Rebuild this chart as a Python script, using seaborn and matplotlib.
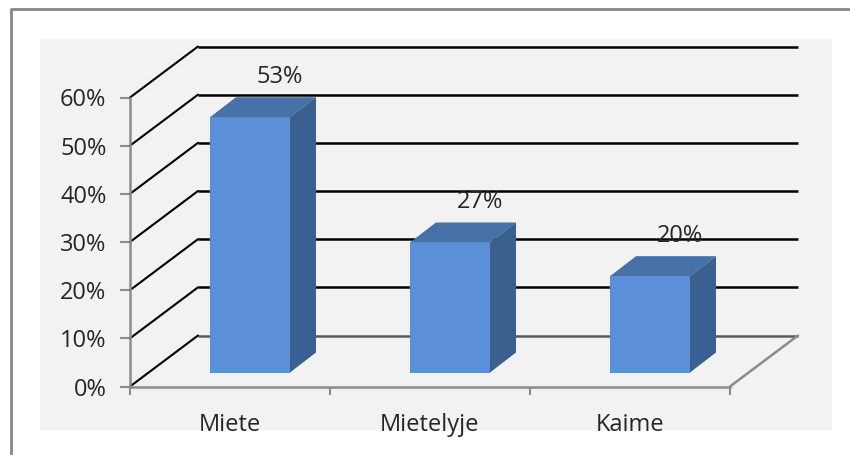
"""3D style column chart drawn flat with seaborn bars plus depth faces."""
import matplotlib
matplotlib.use("Agg")
import matplotlib.pyplot as plt
import pandas as pd
import seaborn as sns
from matplotlib.lines import Line2D
from matplotlib.patches import Polygon, Rectangle
from matplotlib.ticker import PercentFormatter

CATEGORIES = ["Miete", "Mietelyje", "Kaime"]
VALUES = [53, 27, 20]
Y_TICKS = [0, 10, 20, 30, 40, 50, 60]

FRONT = "#5b90d9"
TOP = "#4672a8"
SIDE = "#3b5f8e"
AXIS_GREY = "#8c8c8c"
TEXT = "#262626"
LABEL_SIZE = 17

W, H = 850, 455
AX_LEFT, AX_RIGHT, AX_TOP, AX_BOTTOM = 130, 730, 97.5, 386.5
X_PER_PX = len(CATEGORIES) / (AX_RIGHT - AX_LEFT)
Y_PER_PX = Y_TICKS[-1] / (AX_BOTTOM - AX_TOP)


def draw_walls(ax):
    # back wall and floor sit 68px right and 51px up of the axis plane
    dx, dy = 68 * X_PER_PX, 51 * Y_PER_PX
    x0, x1 = ax.get_xlim()
    for tick in Y_TICKS:
        color = "#595959" if tick == 0 else "black"
        ax.plot([x0 + dx, x1 + dx], [tick + dy, tick + dy], color=color,
                lw=1.8, clip_on=False, zorder=1, solid_capstyle="butt")
        ax.plot([x0, x0 + dx], [tick, tick + dy], color="black",
                lw=1.5, clip_on=False, zorder=1)
    ax.plot([x1, x1 + dx], [0, dy], color=AXIS_GREY, lw=1.8, clip_on=False, zorder=1)


def draw_bars(ax):
    # front face comes from seaborn, moved into the floor depth
    shift_x, shift_y = 20 * X_PER_PX, 14 * Y_PER_PX
    dx, dy = 26 * X_PER_PX, 20 * Y_PER_PX
    for patch in list(ax.patches):
        patch.set_x(patch.get_x() + shift_x)
        patch.set_y(shift_y)
        patch.set_clip_on(False)
        patch.set_zorder(3)
        patch.set_edgecolor("none")
        patch.set_linewidth(0)
        x0, x1 = patch.get_x(), patch.get_x() + patch.get_width()
        y0, y1 = shift_y, shift_y + patch.get_height()
        ax.add_patch(Polygon([(x0, y1), (x1, y1), (x1 + dx, y1 + dy), (x0 + dx, y1 + dy)],
                             facecolor=TOP, edgecolor="none", clip_on=False, zorder=3))
        ax.add_patch(Polygon([(x1, y0), (x1 + dx, y0 + dy), (x1 + dx, y1 + dy), (x1, y1)],
                             facecolor=SIDE, edgecolor="none", clip_on=False, zorder=3))
        ax.annotate(f"{patch.get_height():.0f}%", (x0 + patch.get_width() / 2, y1),
                    xytext=(30 * 0.72, 40 * 0.72), textcoords="offset points",
                    ha="center", va="center", fontsize=LABEL_SIZE, color=TEXT,
                    annotation_clip=False, zorder=4)


def main():
    sns.set_theme(style="white")
    plt.rcParams["font.family"] = ["Open Sans", "DejaVu Sans"]

    fig = plt.figure(figsize=(W / 100, H / 100), dpi=100, facecolor="white")
    fig.add_artist(Rectangle((40 / W, 1 - 430 / H), 792 / W, 391 / H,
                             transform=fig.transFigure, facecolor="#f2f2f2",
                             edgecolor="none", zorder=-2))
    fig.add_artist(Line2D([11 / W, 11 / W, 1], [0, 1 - 9 / H, 1 - 9 / H],
                          transform=fig.transFigure, color="#868686", lw=2, zorder=-1))

    ax = fig.add_axes([AX_LEFT / W, 1 - AX_BOTTOM / H,
                       (AX_RIGHT - AX_LEFT) / W, (AX_BOTTOM - AX_TOP) / H])
    ax.patch.set_alpha(0)

    df = pd.DataFrame({"place": CATEGORIES, "share": VALUES})
    sns.barplot(data=df, x="place", y="share", color=FRONT, saturation=1, width=0.4, ax=ax)
    ax.set_xlim(-0.5, len(CATEGORIES) - 0.5)
    ax.set_ylim(Y_TICKS[0], Y_TICKS[-1])
    ax.set_xlabel("")
    ax.set_ylabel("")

    draw_walls(ax)
    draw_bars(ax)

    ax.set_yticks(Y_TICKS)
    ax.yaxis.set_major_formatter(PercentFormatter(decimals=0))
    ax.set_xticks(range(len(CATEGORIES)), CATEGORIES)
    ax.set_xticks([i - 0.5 for i in range(len(CATEGORIES) + 1)], minor=True)
    ax.tick_params(axis="x", which="major", length=0, pad=19, labelsize=LABEL_SIZE, labelcolor=TEXT)
    ax.tick_params(axis="x", which="minor", length=6, width=1.5, color=AXIS_GREY, bottom=True)
    ax.tick_params(axis="y", length=7, width=1.5, color=AXIS_GREY, pad=10, left=True,
                   labelsize=LABEL_SIZE, labelcolor=TEXT)

    sns.despine(ax=ax, top=True, right=True)
    for side in ("left", "bottom"):
        ax.spines[side].set_color(AXIS_GREY)
        ax.spines[side].set_linewidth(1.8)
        ax.spines[side].set_zorder(2)

    fig.savefig("out.png", dpi=100, facecolor="white")
    plt.close(fig)


if __name__ == "__main__":
    main()
